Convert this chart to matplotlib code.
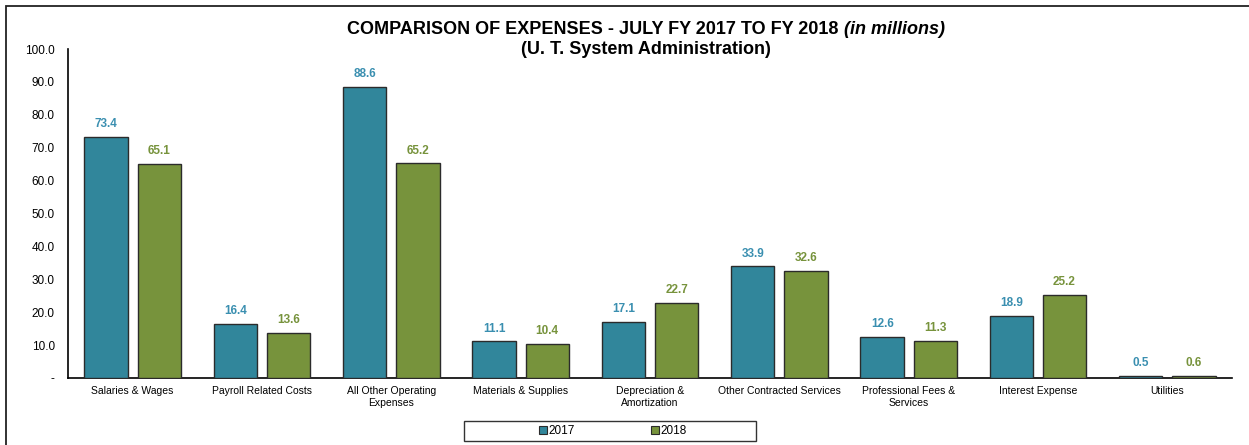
import numpy as np
import matplotlib
matplotlib.use('Agg')
import matplotlib.pyplot as plt
from matplotlib.patches import Rectangle, Patch

plt.rcParams['font.family'] = ['Liberation Sans', 'DejaVu Sans']

categories = ['Salaries & Wages', 'Payroll Related Costs',
              'All Other Operating\nExpenses', 'Materials & Supplies',
              'Depreciation &\nAmortization', 'Other Contracted Services',
              'Professional Fees &\nServices', 'Interest Expense', 'Utilities']
fy2017 = [73.4, 16.4, 88.6, 11.1, 17.1, 33.9, 12.6, 18.9, 0.5]
fy2018 = [65.1, 13.6, 65.2, 10.4, 22.7, 32.6, 11.3, 25.2, 0.6]
series_names = ['2017', '2018']
yticks = [0, 10, 20, 30, 40, 50, 60, 70, 80, 90, 100]

bar_c = {'2017': '#31869B', '2018': '#77933C'}
lbl_c = {'2017': '#3A8FB0', '2018': '#77933C'}

W, H = 1249, 445
fig = plt.figure(figsize=(W / 100, H / 100), dpi=100)
ax = fig.add_axes([68 / W, 1 - 378 / H, (1232 - 68) / W, (378 - 49) / H])

x = np.arange(len(categories))
bw = 0.335
for vals, nm, off in ((fy2017, '2017', -0.205), (fy2018, '2018', 0.205)):
    bars = ax.bar(x + off, vals, width=bw, color=bar_c[nm],
                  edgecolor='#2b2b2b', linewidth=1.0, zorder=3)
    for b, v in zip(bars, vals):
        ax.annotate(f'{v:.1f}', (b.get_x() + b.get_width() / 2, v),
                    xytext=(0, 5), textcoords='offset points',
                    ha='center', va='bottom', fontsize=8.5,
                    fontweight='bold', color=lbl_c[nm])

ax.set_xlim(-0.5, len(categories) - 0.5)
ax.set_ylim(0, 100)
ax.set_yticks(yticks)
ax.set_yticklabels(['-' if t == 0 else f'{t:.1f}' for t in yticks], fontsize=8.5)
ax.set_xticks(x)
ax.set_xticklabels(categories, fontsize=7.5, linespacing=1.15)
ax.tick_params(axis='both', length=0)
ax.tick_params(axis='y', pad=9.5)
ax.tick_params(axis='x', pad=6)
for s in ('top', 'right'):
    ax.spines[s].set_visible(False)
for s in ('left', 'bottom'):
    ax.spines[s].set_linewidth(1.2)
    ax.spines[s].set_color('black')

# title: bold line with italic unit suffix, centred as one piece
t1 = fig.text(0, 1 - 30 / H, 'COMPARISON OF EXPENSES - JULY FY 2017 TO FY 2018',
              ha='left', va='center', fontsize=13, fontweight='bold')
t2 = fig.text(0, 1 - 30 / H, '(in millions)', ha='left', va='center',
              fontsize=13, fontweight='bold', style='italic')
fig.canvas.draw()
w1 = t1.get_window_extent().width
w2 = t2.get_window_extent().width
gap = 5
x0 = 646 - (w1 + gap + w2) / 2
t1.set_x(x0 / W)
t2.set_x((x0 + w1 + gap) / W)
fig.text(646 / W, 1 - 49 / H, '(U. T. System Administration)',
         ha='center', va='center', fontsize=13, fontweight='bold')

# legend with a plain box
handles = [Patch(facecolor=bar_c[n], edgecolor='#2b2b2b', linewidth=0.8)
           for n in series_names]
fig.legend(handles, series_names, loc='center', ncol=2,
           bbox_to_anchor=(613 / W, 1 - 431 / H), frameon=False,
           fontsize=8.5, handlelength=0.65, handleheight=0.65,
           handletextpad=0.15, columnspacing=6.4)
fig.patches.append(Rectangle((464 / W, 1 - 441 / H), 292 / W, 20 / H,
                             transform=fig.transFigure, fill=False,
                             edgecolor='#333333', linewidth=1.0))

# outer chart border
fig.patches.append(Rectangle((6 / W, -0.1), 1.2, 1.1 - 6 / H,
                             transform=fig.transFigure, fill=False,
                             edgecolor='#222222', linewidth=1.3))

fig.savefig('out.png', dpi=100)
